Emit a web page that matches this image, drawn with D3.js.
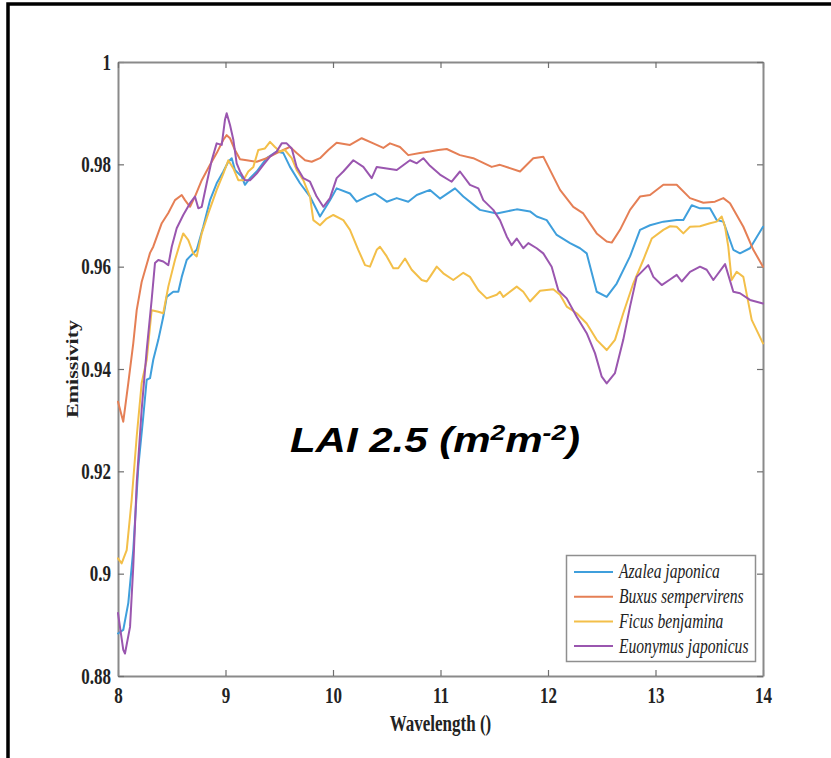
<!DOCTYPE html>
<html>
<head>
<meta charset="utf-8">
<script src="https://cdn.jsdelivr.net/npm/d3@7"></script>
<style>
  html, body { margin: 0; padding: 0; background: #fff; }
  svg { display: block; }
</style>
</head>
<body>
<svg id="chart" width="831" height="758"></svg>
<script>
// Spectral emissivity of four species at LAI 2.5, wavelength in micrometres.
const speciesNames = ["Azalea japonica", "Buxus sempervirens", "Ficus benjamina", "Euonymus japonicus"];
const speciesColors = ["#3f9fdc", "#e57f55", "#f3bf49", "#9a56af"];

const azalea = [
  [8.0,0.8883],[8.049,0.889],[8.096,0.8943],[8.142,0.9046],[8.189,0.9209],[8.235,0.9307],[8.267,0.9379],
  [8.298,0.9382],[8.328,0.9418],[8.375,0.9457],[8.421,0.9502],[8.453,0.9541],[8.514,0.9551],[8.561,0.9551],
  [8.593,0.958],[8.639,0.9613],[8.67,0.962],[8.732,0.9633],[8.793,0.9678],[8.856,0.973],[8.918,0.9763],
  [8.98,0.9786],[9.026,0.9805],[9.058,0.9812],[9.088,0.9789],[9.151,0.9776],[9.181,0.976],[9.228,0.9773],
  [9.29,0.9786],[9.383,0.9812],[9.476,0.9825],[9.538,0.9822],[9.6,0.9795],[9.693,0.9763],[9.786,0.9737],
  [9.879,0.9698],[9.972,0.973],[10.034,0.9753],[10.158,0.9743],[10.22,0.9727],[10.313,0.9737],[10.391,0.9743],
  [10.5,0.9727],[10.593,0.9734],[10.7,0.9727],[10.779,0.974],[10.902,0.975],[10.995,0.9733],[11.135,0.9753],
  [11.212,0.9737],[11.367,0.9711],[11.523,0.9704],[11.709,0.9712],[11.833,0.9708],[11.895,0.9698],[11.988,0.9691],
  [12.081,0.9662],[12.205,0.9646],[12.298,0.9636],[12.36,0.9626],[12.453,0.9551],[12.546,0.9541],[12.639,0.9567],
  [12.763,0.962],[12.856,0.9672],[12.949,0.9681],[13.073,0.9688],[13.197,0.9691],[13.259,0.9691],[13.337,0.972],
  [13.414,0.9714],[13.507,0.9714],[13.569,0.9691],[13.631,0.9688],[13.724,0.9633],[13.786,0.9626],[13.879,0.9636],
  [14.0,0.9678]
];

const buxus = [
  [8.0,0.9336],[8.049,0.9297],[8.096,0.9373],[8.142,0.945],[8.174,0.9515],[8.22,0.957],[8.298,0.9627],
  [8.328,0.9639],[8.407,0.9685],[8.468,0.9705],[8.53,0.973],[8.593,0.974],[8.623,0.973],[8.67,0.9717],
  [8.716,0.9737],[8.779,0.9769],[8.856,0.9799],[8.918,0.9822],[8.98,0.9848],[9.011,0.9857],[9.042,0.9851],
  [9.088,0.9828],[9.135,0.981],[9.197,0.9808],[9.29,0.9805],[9.383,0.9812],[9.476,0.9822],[9.538,0.9828],
  [9.6,0.9834],[9.662,0.9822],[9.74,0.9808],[9.802,0.9805],[9.879,0.9812],[9.956,0.9828],[10.034,0.9842],
  [10.158,0.9838],[10.267,0.9851],[10.375,0.9841],[10.468,0.9832],[10.53,0.9841],[10.623,0.9834],[10.7,0.9818],
  [10.809,0.9822],[10.902,0.9825],[10.98,0.9828],[11.058,0.983],[11.181,0.9818],[11.305,0.9812],[11.476,0.9795],
  [11.553,0.9799],[11.74,0.9786],[11.863,0.9812],[11.956,0.9815],[12.112,0.975],[12.235,0.9717],[12.328,0.9704],
  [12.453,0.9665],[12.546,0.9649],[12.593,0.9647],[12.67,0.9672],[12.763,0.9711],[12.856,0.9737],[12.949,0.974],
  [13.073,0.976],[13.197,0.976],[13.321,0.9734],[13.445,0.9725],[13.553,0.9727],[13.631,0.9734],[13.693,0.9724],
  [13.817,0.9678],[13.91,0.9633],[14.0,0.96]
];

const ficus = [
  [8.0,0.903],[8.034,0.902],[8.081,0.9046],[8.127,0.9144],[8.174,0.9268],[8.22,0.9372],[8.267,0.9418],
  [8.313,0.9515],[8.375,0.9512],[8.421,0.9509],[8.468,0.9561],[8.53,0.9613],[8.577,0.9646],[8.607,0.9665],
  [8.654,0.9652],[8.7,0.9626],[8.732,0.962],[8.779,0.9665],[8.84,0.9704],[8.918,0.975],[8.98,0.9782],
  [9.026,0.9808],[9.073,0.9792],[9.119,0.9769],[9.166,0.9769],[9.212,0.9786],[9.259,0.9795],[9.305,0.9828],
  [9.367,0.9831],[9.414,0.9844],[9.46,0.9834],[9.507,0.9825],[9.553,0.9828],[9.616,0.9812],[9.662,0.9789],
  [9.724,0.9769],[9.786,0.9737],[9.817,0.9691],[9.879,0.9681],[9.941,0.9694],[10.003,0.9701],[10.096,0.9691],
  [10.158,0.9672],[10.235,0.9633],[10.298,0.9603],[10.344,0.96],[10.407,0.9633],[10.437,0.9639],[10.5,0.962],
  [10.561,0.9597],[10.607,0.9597],[10.67,0.9616],[10.732,0.9594],[10.825,0.9574],[10.872,0.9571],[10.902,0.958],
  [10.965,0.96],[11.026,0.9587],[11.119,0.9574],[11.212,0.9588],[11.274,0.958],[11.352,0.9554],[11.43,0.9538],
  [11.523,0.9545],[11.553,0.9551],[11.584,0.9541],[11.709,0.9561],[11.77,0.9551],[11.833,0.9532],[11.926,0.9553],
  [12.049,0.9556],[12.112,0.9545],[12.174,0.9522],[12.267,0.9509],[12.36,0.9489],[12.453,0.9457],[12.546,0.9437],
  [12.623,0.9457],[12.7,0.9509],[12.793,0.9567],[12.886,0.9613],[12.965,0.9655],[13.073,0.9672],[13.135,0.9679],
  [13.197,0.9678],[13.259,0.9665],[13.321,0.9678],[13.414,0.9679],[13.507,0.9685],[13.569,0.9688],[13.616,0.9698],
  [13.647,0.9678],[13.677,0.9639],[13.708,0.9574],[13.755,0.959],[13.817,0.958],[13.895,0.9496],[14.0,0.945]
];

const euonymus = [
  [8.0,0.8923],[8.049,0.8851],[8.065,0.8844],[8.112,0.8896],[8.142,0.9014],[8.174,0.9177],[8.22,0.932],
  [8.267,0.9437],[8.313,0.9535],[8.344,0.9607],[8.375,0.9613],[8.421,0.961],[8.468,0.9603],[8.5,0.9639],
  [8.546,0.9675],[8.607,0.9701],[8.67,0.9724],[8.716,0.9737],[8.747,0.9714],[8.779,0.9717],[8.825,0.9763],
  [8.872,0.9808],[8.918,0.9841],[8.965,0.9838],[8.995,0.9887],[9.011,0.99],[9.042,0.9877],[9.073,0.9848],
  [9.104,0.9802],[9.135,0.9786],[9.181,0.9769],[9.228,0.9769],[9.29,0.9782],[9.352,0.9799],[9.414,0.9815],
  [9.476,0.9825],[9.523,0.9841],[9.569,0.9841],[9.616,0.9831],[9.662,0.9795],[9.724,0.9773],[9.786,0.9766],
  [9.848,0.9737],[9.91,0.9717],[9.972,0.9734],[10.034,0.9773],[10.096,0.9786],[10.189,0.9808],[10.282,0.9795],
  [10.36,0.9773],[10.407,0.9795],[10.5,0.9792],[10.593,0.9789],[10.716,0.9808],[10.779,0.9802],[10.84,0.9812],
  [10.902,0.9797],[10.995,0.978],[11.104,0.9766],[11.181,0.9786],[11.274,0.976],[11.352,0.9753],[11.398,0.973],
  [11.491,0.9711],[11.553,0.9691],[11.616,0.9659],[11.662,0.9642],[11.709,0.9655],[11.77,0.9636],[11.817,0.9646],
  [11.895,0.9636],[11.956,0.9626],[12.034,0.96],[12.096,0.9554],[12.174,0.9538],[12.267,0.9502],[12.36,0.947],
  [12.437,0.9431],[12.5,0.9385],[12.546,0.9372],[12.623,0.9392],[12.7,0.9457],[12.763,0.9522],[12.825,0.958],
  [12.933,0.9603],[12.98,0.958],[13.058,0.9564],[13.135,0.9575],[13.197,0.9584],[13.244,0.9571],[13.321,0.959],
  [13.414,0.96],[13.476,0.9594],[13.538,0.9574],[13.647,0.9605],[13.724,0.9551],[13.786,0.9548],[13.879,0.9535],
  [14.0,0.9528]
];

const wavelengthTicks = [8, 9, 10, 11, 12, 13, 14];
const wavelengthTickLabels = ["8", "9", "10", "11", "12", "13", "14"];
const emissivityTicks = [0.88, 0.9, 0.92, 0.94, 0.96, 0.98, 1];
const emissivityTickLabels = ["0.88", "0.9", "0.92", "0.94", "0.96", "0.98", "1"];

const seriesList = [azalea, buxus, ficus, euonymus];

const svg = d3.select("#chart");
const plot = { left: 118, right: 763, top: 62, bottom: 676 };
const serif = "'Liberation Serif', 'Times New Roman', serif";
const axisGrey = "#8a8a8a";
const textStretch = 1.3;

// Outer frame (top and left edges)
svg.append("path")
  .attr("d", "M8,758 L8,4 L831,4")
  .attr("fill", "none")
  .attr("stroke", "#000")
  .attr("stroke-width", 3.5);

const x = d3.scaleLinear().domain([8, 14]).range([plot.left, plot.right]);
const y = d3.scaleLinear().domain([0.88, 1]).range([plot.bottom, plot.top]);

function styleAxis(g) {
  g.select(".domain").attr("stroke", axisGrey).attr("stroke-width", 2);
  g.selectAll(".tick line").attr("stroke", "#6f6f6f").attr("stroke-width", 1.2);
  g.selectAll("text")
    .attr("fill", "#222")
    .attr("font-family", serif)
    .attr("font-weight", "bold")
    .attr("font-size", 17);
}

// Bottom axis with inward ticks
const xAxis = svg.append("g")
  .attr("transform", `translate(0,${plot.bottom})`)
  .call(d3.axisBottom(x).tickValues(wavelengthTicks)
    .tickFormat((d, i) => wavelengthTickLabels[i])
    .tickSizeInner(-6).tickSizeOuter(0).tickPadding(10));
styleAxis(xAxis);
xAxis.selectAll("text").attr("transform", `scale(1,${textStretch})`).attr("y", 8.5);

// Left axis with inward ticks
const yAxis = svg.append("g")
  .attr("transform", `translate(${plot.left},0)`)
  .call(d3.axisLeft(y).tickValues(emissivityTicks)
    .tickFormat((d, i) => emissivityTickLabels[i])
    .tickSizeInner(-6).tickSizeOuter(0).tickPadding(7));
styleAxis(yAxis);
yAxis.selectAll("text").attr("transform", `scale(1,${textStretch})`);

// Top and right box edges, ticks only
const topAxis = svg.append("g")
  .attr("transform", `translate(0,${plot.top})`)
  .call(d3.axisTop(x).tickValues(wavelengthTicks).tickFormat("").tickSizeInner(-6).tickSizeOuter(0));
styleAxis(topAxis);
const rightAxis = svg.append("g")
  .attr("transform", `translate(${plot.right},0)`)
  .call(d3.axisRight(y).tickValues(emissivityTicks).tickFormat("").tickSizeInner(-6).tickSizeOuter(0));
styleAxis(rightAxis);

// Spectral curves
const line = d3.line().x(d => x(d[0])).y(d => y(d[1]));
svg.append("g")
  .selectAll("path")
  .data(seriesList)
  .join("path")
  .attr("d", line)
  .attr("fill", "none")
  .attr("stroke", (d, i) => speciesColors[i])
  .attr("stroke-width", 2)
  .attr("stroke-linejoin", "round")
  .attr("stroke-linecap", "round");

// Axis titles
svg.append("text")
  .attr("transform", `translate(${(plot.left + plot.right) / 2},731) scale(1,${textStretch})`)
  .attr("text-anchor", "middle")
  .attr("font-family", serif)
  .attr("font-weight", "bold")
  .attr("font-size", 17)
  .attr("fill", "#222")
  .text("Wavelength ()");

svg.append("text")
  .attr("transform", `translate(78,369) rotate(-90) scale(${textStretch},1)`)
  .attr("text-anchor", "middle")
  .attr("font-family", serif)
  .attr("font-weight", "bold")
  .attr("font-size", 17)
  .attr("fill", "#222")
  .text("Emissivity");

// Legend
const legend = svg.append("g");
legend.append("rect")
  .attr("x", 566.5).attr("y", 555.5).attr("width", 189).attr("height", 106)
  .attr("fill", "#fff").attr("stroke", "#8f8f8f").attr("stroke-width", 1.5);
const entries = legend.selectAll("g.entry")
  .data(speciesNames)
  .join("g")
  .attr("class", "entry")
  .attr("transform", (d, i) => `translate(574,${572 + i * 24.7})`);
entries.append("line")
  .attr("x1", 0).attr("x2", 39).attr("y1", 0).attr("y2", 0)
  .attr("stroke", (d, i) => speciesColors[i]).attr("stroke-width", 2);
entries.append("text")
  .attr("x", 45)
  .attr("dy", "0.32em")
  .attr("transform", `scale(1,${textStretch})`)
  .attr("font-family", serif)
  .attr("font-style", "italic")
  .attr("font-size", 15.6)
  .attr("fill", "#222")
  .text(d => d);

// Canopy annotation
const note = svg.append("text")
  .attr("transform", "translate(435,452) scale(1.2,1)")
  .attr("text-anchor", "middle")
  .attr("font-family", "'Liberation Sans', Arial, sans-serif")
  .attr("font-weight", "bold")
  .attr("font-style", "italic")
  .attr("font-size", 35)
  .attr("fill", "#000");
note.append("tspan").text("LAI 2.5 (m");
note.append("tspan").attr("font-size", 22).attr("dy", -12).text("2");
note.append("tspan").attr("dy", 12).text("m");
note.append("tspan").attr("font-size", 22).attr("dy", -12).text("-2");
note.append("tspan").attr("dy", 12).text(")");
</script>
</body>
</html>
